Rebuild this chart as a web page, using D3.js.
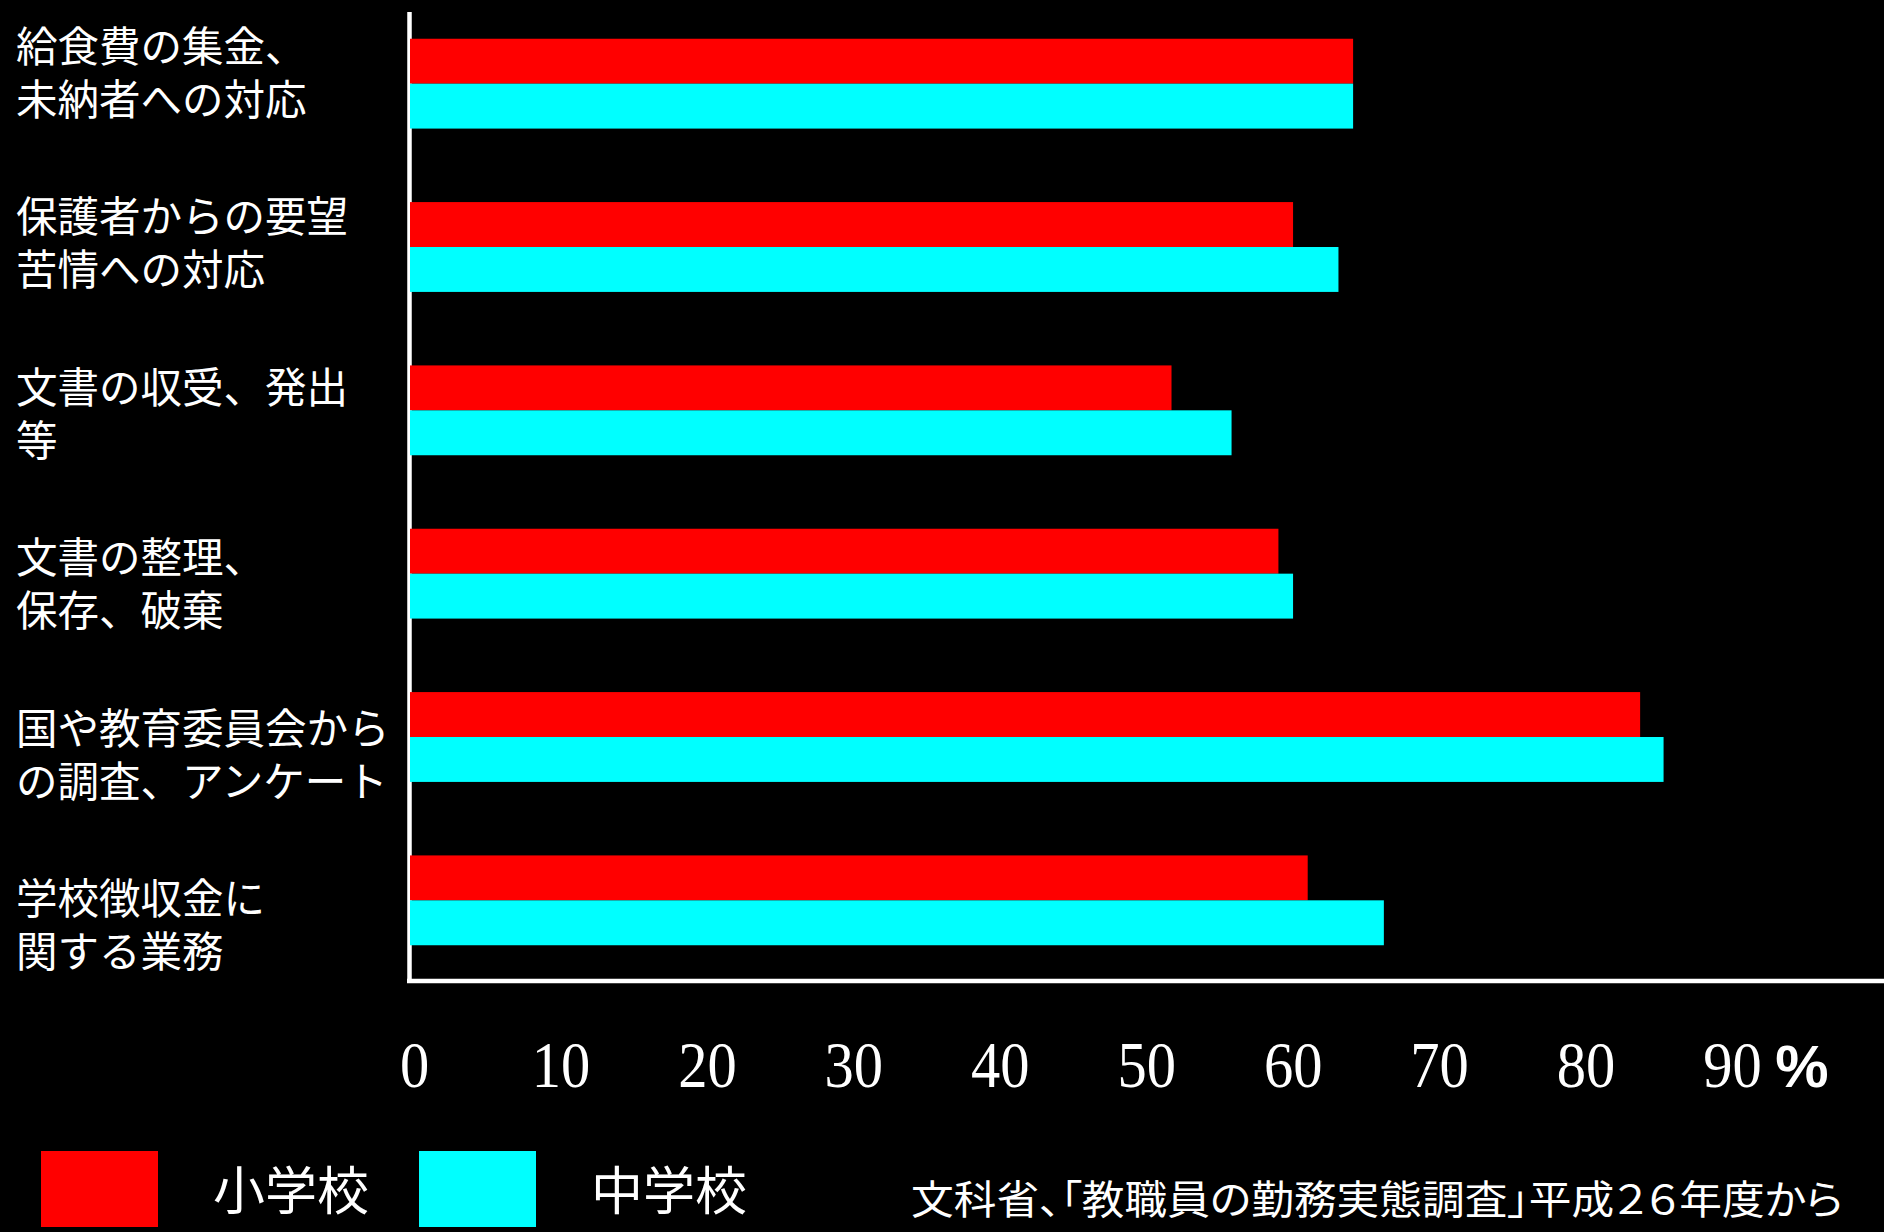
<!DOCTYPE html>
<html>
<head>
<meta charset="utf-8">
<script src="https://cdn.jsdelivr.net/npm/d3@7"></script>
<style>
  body { margin: 0; background: #000; }
  svg { display: block; }
</style>
</head>
<body>
<svg width="1884" height="1232"></svg>
<script>
// data (percent)
var categories = [
  "給食費の集金、\n未納者への対応",
  "保護者からの要望\n苦情への対応",
  "文書の収受、発出\n等",
  "文書の整理、\n保存、破棄",
  "国や教育委員会から\nの調査、アンケート",
  "学校徴収金に\n関する業務"
];
var elementary = [64.4, 60.3, 52.0, 59.3, 84.0, 61.3];
var juniorHigh = [64.4, 63.4, 56.1, 60.3, 85.6, 66.5];
var seriesNames = ["小学校", "中学校"];
var seriesColors = ["#FF0000", "#00FFFF"];
var tickValues = [0, 10, 20, 30, 40, 50, 60, 70, 80, 90];
var sourceNote = "文科省、「教職員の勤務実態調査」平成２６年度から";

var svg = d3.select("svg"),
  width = +svg.attr("width"),
  height = +svg.attr("height");

var jp = "'Noto Sans CJK JP', 'Noto Sans', sans-serif";

svg.append("rect")
  .attr("width", width)
  .attr("height", height)
  .attr("fill", "#000");

var x = d3.scaleLinear()
  .domain([0, 90])
  .range([410, 1728]);

var y = d3.scaleBand()
  .domain(categories)
  .range([2, 982])
  .paddingInner(0.45)
  .paddingOuter(0.225);

// labels sit on their own slightly wider spacing
var yLabel = d3.scalePoint()
  .domain(categories)
  .range([62, 914]);

var rows = categories.map(function(c, i) {
  return { cat: c, values: [elementary[i], juniorHigh[i]] };
});

// axis lines
svg.append("line")
  .attr("x1", 409.5).attr("x2", 409.5)
  .attr("y1", 12).attr("y2", 983)
  .attr("stroke", "#fff")
  .attr("stroke-width", 4.5);

svg.append("line")
  .attr("x1", 407).attr("x2", width)
  .attr("y1", 981).attr("y2", 981)
  .attr("stroke", "#fff")
  .attr("stroke-width", 4.5);

// bars
var sub = d3.scaleBand()
  .domain([0, 1])
  .range([0, y.bandwidth()]);

var group = svg.append("g")
  .selectAll("g")
  .data(rows)
  .enter().append("g")
  .attr("transform", function(d) { return "translate(0," + y(d.cat) + ")"; });

group.selectAll("rect")
  .data(function(d) { return d.values; })
  .enter().append("rect")
  .attr("x", x(0))
  .attr("y", function(d, i) { return sub(i); })
  .attr("width", function(d) { return x(d) - x(0); })
  .attr("height", sub.bandwidth())
  .attr("fill", function(d, i) { return seriesColors[i]; });

// category labels
var label = svg.append("g")
  .selectAll("text")
  .data(categories)
  .enter().append("text")
  .attr("x", 16)
  .attr("y", function(d) { return yLabel(d); })
  .style("font-family", jp)
  .style("font-size", "41.5px")
  .attr("fill", "#fff");

label.selectAll("tspan")
  .data(function(d) { return d.split("\n"); })
  .enter().append("tspan")
  .attr("x", 16)
  .attr("dy", function(d, i) { return i === 0 ? 0 : 53; })
  .text(function(d) { return d; });

// x tick labels
var xAxis = svg.append("g")
  .attr("transform", "translate(0,1087)")
  .call(d3.axisBottom(x).tickValues(tickValues).tickSize(0).tickFormat(d3.format("d")));

xAxis.select(".domain").remove();
xAxis.selectAll("text")
  .attr("y", 0)
  .attr("dy", 0)
  .attr("x", 0)
  .attr("transform", "translate(4,0) scale(0.9,1)")
  .attr("fill", "#fff")
  .style("font-family", "'Liberation Serif', 'Times New Roman', serif")
  .style("font-size", "65px");

svg.append("text")
  .attr("x", x(90) + 74)
  .attr("y", 1087)
  .attr("text-anchor", "middle")
  .attr("fill", "#fff")
  .style("font-family", "'Liberation Sans', Arial, sans-serif")
  .style("font-weight", "bold")
  .style("font-size", "60px")
  .text("%");

// legend
var legend = svg.append("g")
  .selectAll("g")
  .data(seriesNames)
  .enter().append("g")
  .attr("transform", function(d, i) { return "translate(" + (41 + i * 378) + ",1151)"; });

legend.append("rect")
  .attr("width", 117)
  .attr("height", 76)
  .attr("fill", function(d, i) { return seriesColors[i]; });

legend.append("text")
  .attr("x", 172)
  .attr("y", 59)
  .attr("fill", "#fff")
  .style("font-family", jp)
  .style("font-size", "52px")
  .text(function(d) { return d; });

// source note
svg.append("text")
  .attr("x", 911)
  .attr("y", 1214)
  .attr("fill", "#fff")
  .attr("textLength", 932)
  .attr("lengthAdjust", "spacingAndGlyphs")
  .style("font-family", jp)
  .style("font-size", "40px")
  .style("font-feature-settings", "'palt'")
  .text(sourceNote);
</script>
</body>
</html>
